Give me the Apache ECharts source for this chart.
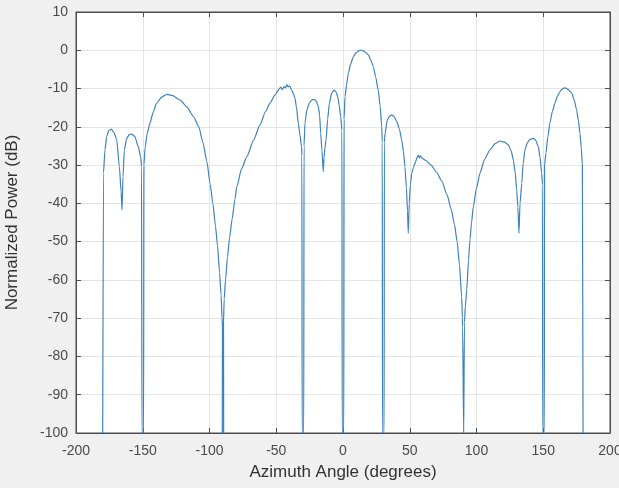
<!DOCTYPE html>
<html>
<head>
<meta charset="utf-8">
<script src="https://cdn.jsdelivr.net/npm/echarts@6/dist/echarts.min.js"></script>
<style>
  html, body { margin: 0; padding: 0; background: #f0f0f0; }
  #chart { width: 619px; height: 488px; }
</style>
</head>
<body>
<div id="chart"></div>
<script>
// Azimuth cut of the normalized array pattern (deg, dB); nulls drop to the floor
const azimuth = [
  -180, -179.4, -178.3, -177, -175.5, -173.5, -171.5, -169.5, -167.5, -166.2, -165.5,
  -164.8, -163.8, -162, -160, -158.3, -156, -153.3, -151.5, -150.9, -150.6, -149.4,
  -149.1, -148.3, -146.5, -144.6, -142, -139.6, -136, -132, -128, -122, -117, -112,
  -108, -105, -102, -99.5, -97.5, -95.5, -94, -92.5, -91.3, -90.6, -90.3, -90.4, -89.4,
  -89.5, -89, -88, -86.5, -85, -83, -81, -79.5, -76, -72, -67, -62.2, -58, -54.7,
  -51, -48, -46.5, -45.5, -44.3, -43, -42.2, -41, -40, -38.4, -37, -36, -34.8,
  -33.5, -32.3, -31, -30.8, -30.6, -29.4,
  -29.2, -28.5, -27, -25.2, -23.5, -21.7, -20, -18.5, -17.5, -16.7, -15.8, -14.8,
  -14.2, -13.5, -12.7, -11.5, -10.2, -8.5, -6.7, -5, -4, -2.8, -1.7, -0.8, -0.6, 0.6,
  0.8, 1.5, 2.7, 4, 5.8, 7.7, 10, 12, 14, 16.5, 19, 21, 22.7, 24.5, 26.4, 27.8,
  29, 29.4, 29.6, 30.8,
  31, 31.5, 33.2, 35, 36.5, 38.3, 40.2, 42.2, 44, 45.3, 46.4, 47.5, 48.3, 48.9,
  49.6, 50.5, 51.5, 52.8, 54, 55.5, 56.4, 57.3, 58, 59, 62, 66, 70, 74,
  78, 81, 83.5, 85.5, 87.2, 88.9, 89.4, 89.6, 90.4, 90.6,
  91, 91.6, 92.7, 94, 95.1, 96.3, 97.6, 100, 102.6, 106, 110.1, 114, 117.6, 121,
  123.8, 126, 127.6, 129, 130.1, 131, 131.8, 132.6, 133.9, 135, 136.3, 138, 140,
  142.6, 144.5, 146.3, 147.6, 148.8, 149.4, 149.6, 150.8,
  151, 152, 153.5, 155, 156.8, 158.8, 160.6, 162.5, 164.5, 166.3, 168.5, 171.3,
  173.2, 175, 176.3, 177.5, 178.5, 179.3, 179.8
];
const power = [
  -100, -32, -26, -22.5, -21, -20.6, -21.5, -23.4, -30.4, -37, -41.7,
  -33, -26, -23, -22, -21.9, -22.5, -25.2, -28, -30.4, -100, -100,
  -30, -25.5, -21.5, -19, -16, -13.8, -12.3, -11.5, -11.8, -13, -14.8, -17.3,
  -20, -24, -29, -35, -40, -46, -51, -58, -64, -70, -72, -100, -100,
  -71, -65, -60, -54, -49, -44, -39, -35.6, -31, -27.8, -23.5, -19.5, -16, -13.8,
  -11.7, -10.2, -9.6, -10.3, -9.5, -9.8, -9.0, -9.6, -9.3, -10.4, -11.5, -12.5, -15,
  -19, -22, -25.2, -27.5, -100, -100,
  -25, -19, -15.5, -13.8, -13, -12.8, -13.3, -14.7, -17, -21.7, -26, -31.7,
  -28, -25.5, -23.4, -18, -13.8, -11.2, -10.4, -11, -12.1, -14.5, -17.3, -21, -100, -100,
  -18, -12.1, -9, -6, -3.5, -1.7, -0.6, -0.1, 0, -0.4, -1.2, -2.7, -4.3, -7, -10.4, -14.5,
  -20, -24, -100, -100,
  -24, -21.7, -18.2, -17.2, -16.9, -17.3, -18.6, -20.5, -23.4, -26.5, -30.4, -36, -42, -47.8,
  -40, -35, -32.1, -30.5, -29.5, -28, -27.4, -28.1, -27.6, -28.2, -28.8, -30, -31.8, -34.2,
  -37.8, -41.5, -45.5, -50, -56, -64.4, -70, -72.2, -100, -100,
  -71, -67, -62.6, -55, -49.6, -45, -40.9, -36, -32.1, -28.5, -26, -24.4, -23.7, -24,
  -24.7, -26.3, -28.7, -32, -36.5, -41, -47.8, -40, -34.8, -29.5, -26, -24.2, -23.3,
  -23, -23.6, -25.2, -28, -32.1, -35, -100, -100,
  -30, -26.9, -22.5, -19, -16, -13.8, -12, -10.8, -10, -9.8, -10.2, -11.2,
  -13, -15.6, -18.3, -21.7, -25.5, -30, -100
];
const xTicks = { min: -200, max: 200, step: 50 };
const yTicks = { min: -100, max: 10, step: 10 };

const points = azimuth.map((a, i) => [a, power[i]]);

const chart = echarts.init(document.getElementById('chart'), null, { renderer: 'canvas' });
const fontFamily = 'Liberation Sans, Arial, sans-serif';
const labelFont = { color: '#4a4a4a', fontSize: 14, fontFamily };
const nameFont = { color: '#333333', fontSize: 17, fontFamily };
const grid = '#e4e4e4';
const frame = '#4d4d4d';

const frameAxis = {
  axisLine: { show: true, onZero: false, lineStyle: { color: frame } },
  axisTick: { show: true, inside: true, length: 5, lineStyle: { color: frame } }
};

chart.setOption({
  backgroundColor: '#f0f0f0',
  animation: false,
  grid: {
    left: 76, right: 9, top: 12, bottom: 55,
    containLabel: false,
    outerBoundsMode: 'none',
    show: true, backgroundColor: '#ffffff', borderColor: frame, borderWidth: 1
  },
  xAxis: [
    Object.assign({
      type: 'value', min: xTicks.min, max: xTicks.max, interval: xTicks.step,
      position: 'bottom',
      name: 'Azimuth Angle (degrees)', nameLocation: 'middle', nameGap: 31,
      nameTextStyle: nameFont,
      axisLabel: Object.assign({ margin: 11 }, labelFont),
      splitLine: { show: true, lineStyle: { color: grid, width: 1 } }
    }, frameAxis),
    Object.assign({
      type: 'value', min: xTicks.min, max: xTicks.max, interval: xTicks.step,
      position: 'top',
      axisLabel: { show: false },
      splitLine: { show: false }
    }, frameAxis)
  ],
  yAxis: [
    Object.assign({
      type: 'value', min: yTicks.min, max: yTicks.max, interval: yTicks.step,
      position: 'left',
      name: 'Normalized Power (dB)', nameLocation: 'middle', nameGap: 55,
      nameTextStyle: nameFont,
      axisLabel: Object.assign({ margin: 8 }, labelFont),
      splitLine: { show: true, lineStyle: { color: grid, width: 1 } }
    }, frameAxis),
    Object.assign({
      type: 'value', min: yTicks.min, max: yTicks.max, interval: yTicks.step,
      position: 'right',
      axisLabel: { show: false },
      splitLine: { show: false }
    }, frameAxis)
  ],
  series: [{
    type: 'line',
    data: points,
    xAxisIndex: 0, yAxisIndex: 0,
    showSymbol: false,
    clip: true,
    smooth: 0.2,
    smoothMonotone: 'x',
    lineStyle: { color: '#3f82bb', width: 1.2 }
  }]
});
</script>
</body>
</html>
